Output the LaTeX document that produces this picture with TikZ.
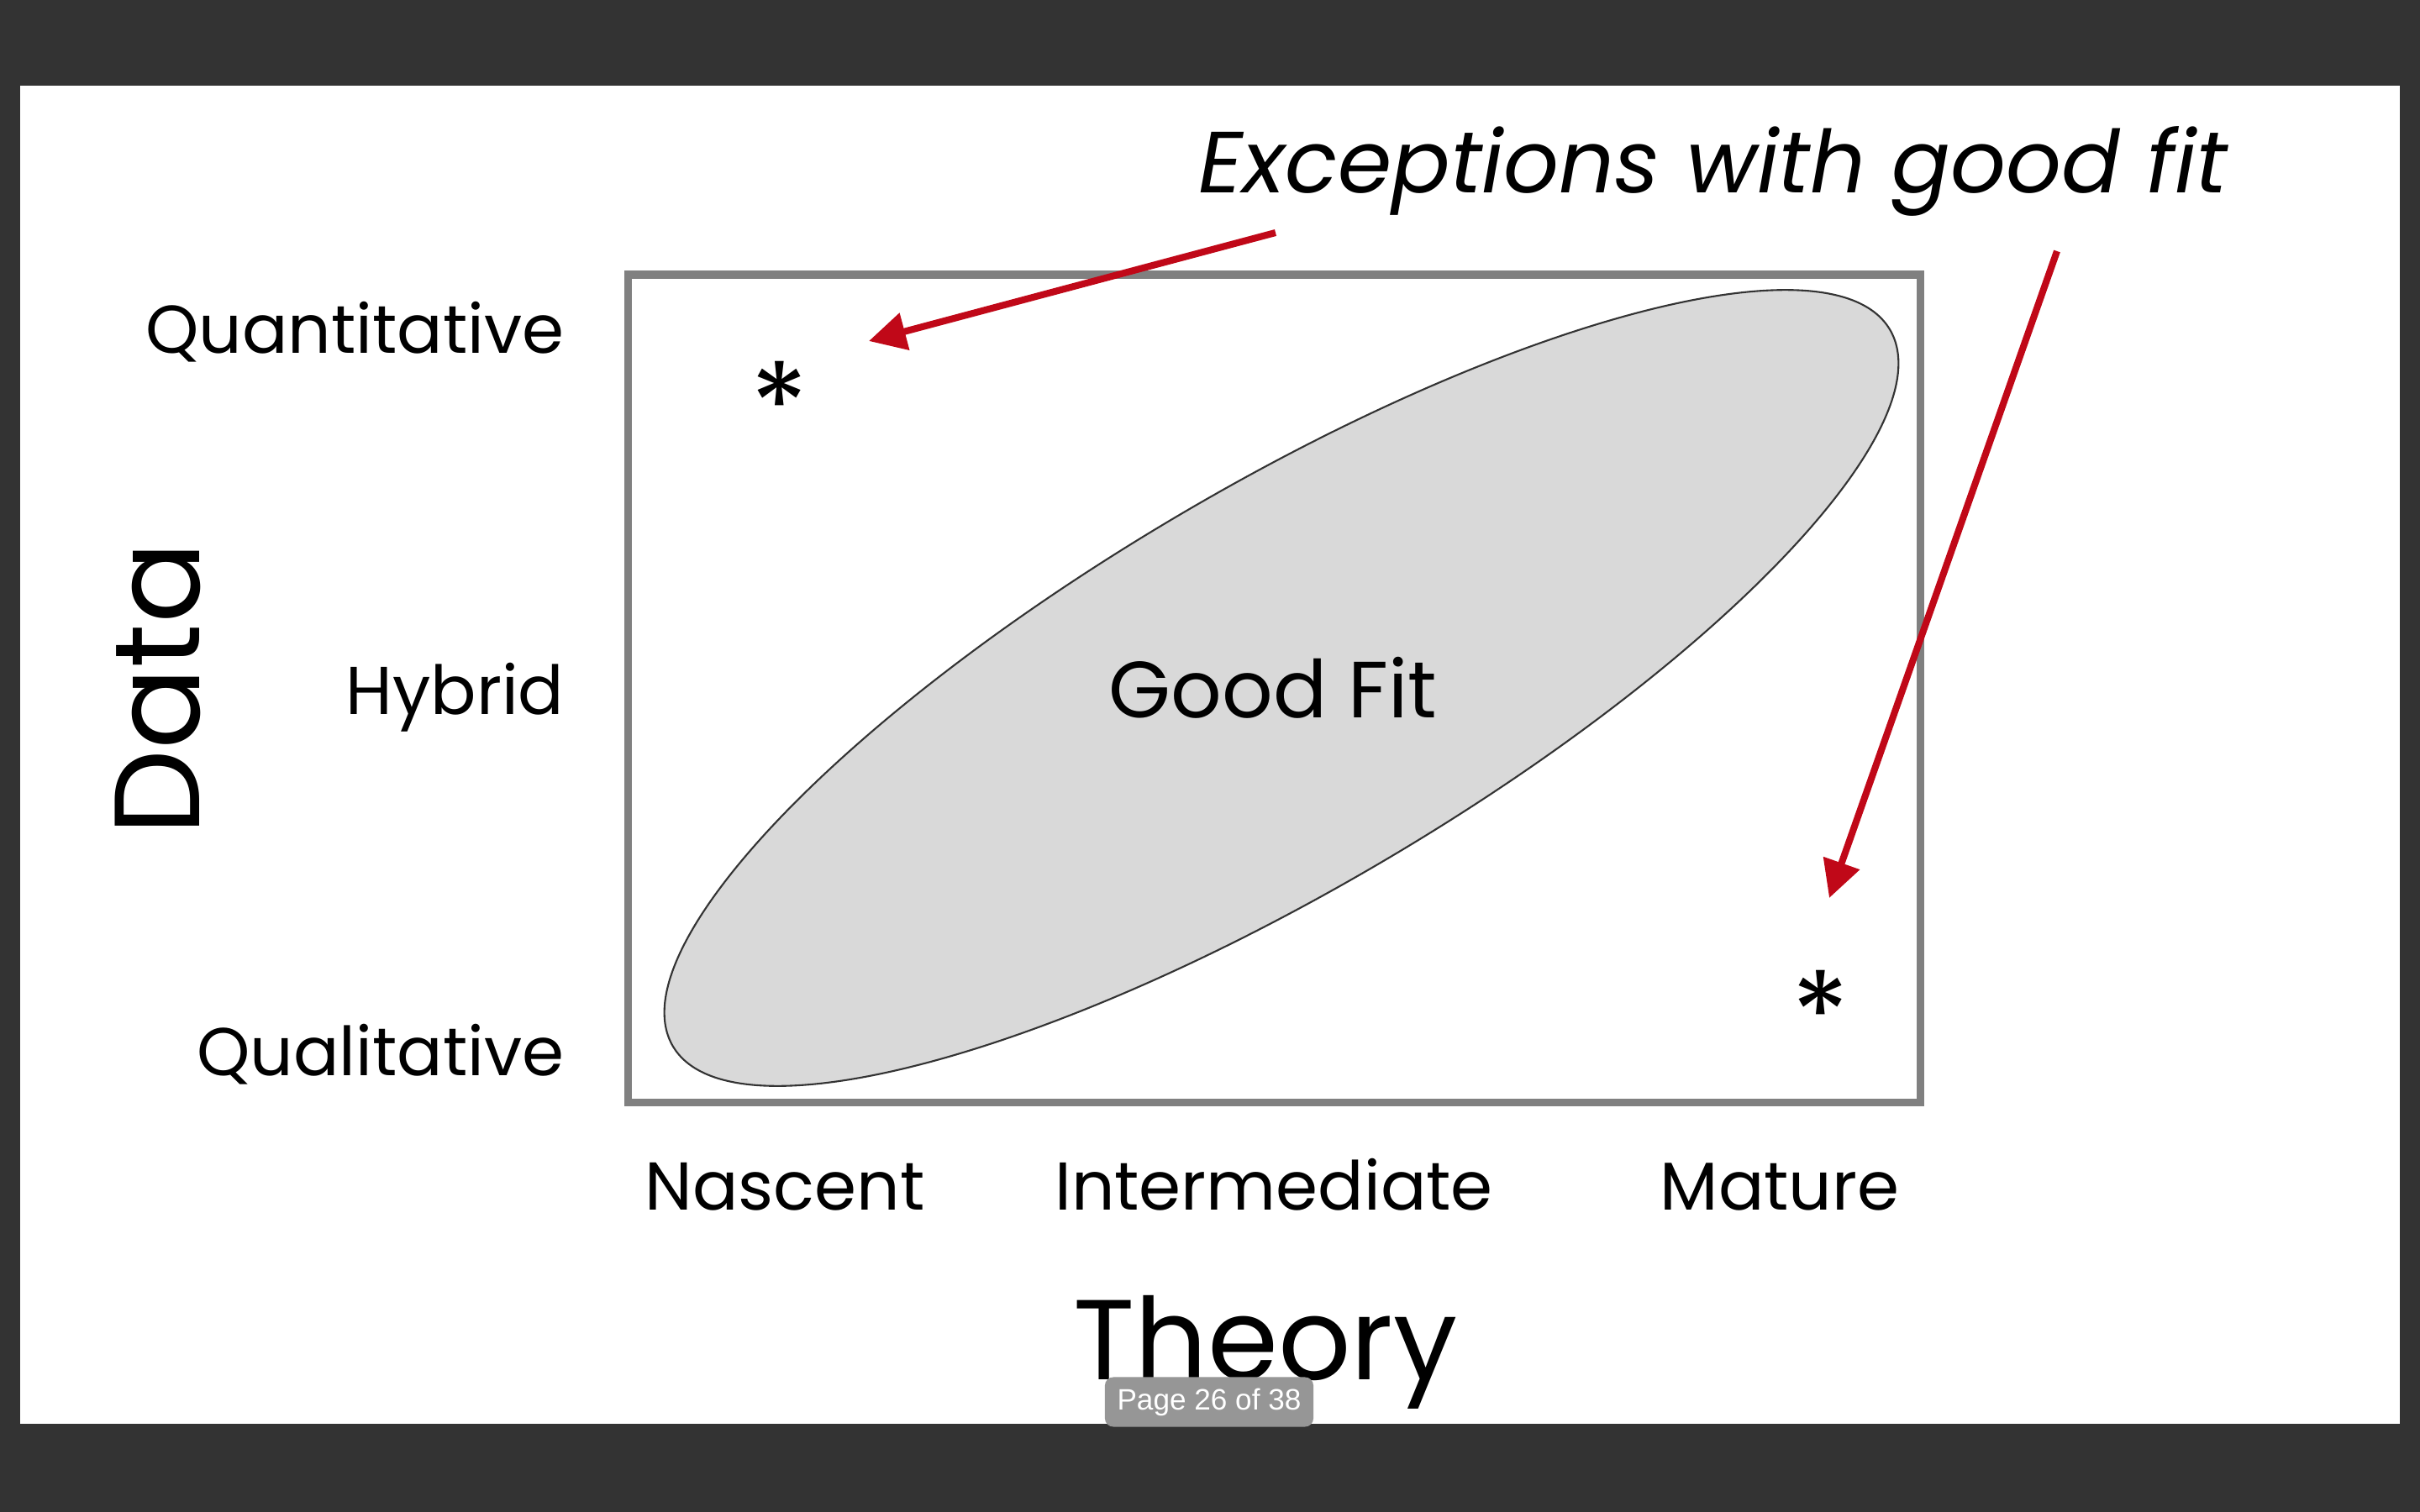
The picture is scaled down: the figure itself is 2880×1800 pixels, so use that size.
\documentclass[tikz,border=0pt]{standalone}
\usepackage{fontspec}
\setmainfont{Poppins}
\newfontfamily\uifont{Liberation Sans}
\usetikzlibrary{arrows.meta}
\definecolor{darkbg}{HTML}{333333}
\definecolor{boxgray}{HTML}{808080}
\definecolor{ellfill}{HTML}{D9D9D9}
\definecolor{ellline}{HTML}{333333}
\definecolor{arrred}{HTML}{C00818}
\definecolor{tagfill}{HTML}{969696}
\tikzset{
  lab/.style={inner sep=0pt, font=\fontsize{22.9}{28}\selectfont},
  starlab/.style={inner sep=0pt, font=\fontsize{40}{48}\selectfont},
  redarrow/.style={draw=arrred, line width=2.3pt, -{Triangle[length=0.44cm, width=0.44cm]}},
}
\begin{document}
\begin{tikzpicture}[x=0.01cm, y=-0.01cm]
\useasboundingbox (0,0) rectangle (2880,1800);
\fill[darkbg] (0,0) rectangle (2880,1800);
\fill[white] (24,102) rectangle (2856,1695);
% frame
\draw[boxgray, line width=2.56pt] (747,327) rectangle (2285,1312);
% ellipse
\coordinate (ec) at (1525,819);
\draw[ellline, fill=ellfill, line width=0.6pt, rotate around={30.5:(ec)}] (ec) ellipse [x radius=8.40cm, y radius=2.39cm];
\node[inner sep=0pt, font=\fontsize{27}{32}\selectfont, anchor=base] (good) at (1515,854) {Good Fit};
% axis labels
\node[lab, anchor=base east] (quant) at (672,421) {Quantitative};
\node[lab, anchor=base east] (hyb) at (672,850) {Hybrid};
\node[lab, anchor=base east] (qual) at (672,1280) {Qualitative};
\node[lab, anchor=base] (nas) at (934,1440) {Nascent};
\node[lab, anchor=base] (inter) at (1516,1440) {Intermediate};
\node[lab, anchor=base] (mat) at (2118,1440) {Mature};
\node[inner sep=0pt, font=\fontsize{38.5}{46}\selectfont, anchor=base] (theory) at (1506,1642) {Theory};
\node[inner sep=0pt, font=\fontsize{41}{48}\selectfont, anchor=base, rotate=90] (data) at (237,820) {Data};
% asterisks
\node[starlab] (s1) at (928,482) {*};
\node[starlab] (s2) at (2167,1207) {*};
% exceptions
\node[inner sep=0pt, font=\fontsize{29.4}{35}\selectfont\itshape, anchor=base] (exc) at (2039,230) {Exceptions with good fit};
\coordinate (a1s) at (1518,277);
\coordinate (a1e) at (1034,406);
\coordinate (a2s) at (2448,299);
\coordinate (a2e) at (2177,1069);
\draw[redarrow] (a1s) -- (a1e);
\draw[redarrow] (a2s) -- (a2e);
% page tag
\node[fill=tagfill, text=white, rounded corners=0.1cm, minimum width=2.48cm, minimum height=0.59cm, inner sep=0pt, font=\uifont\fontsize{10}{12}\selectfont] (tag) at (1439,1669) {Page 26 of 38};
\end{tikzpicture}
\end{document}
